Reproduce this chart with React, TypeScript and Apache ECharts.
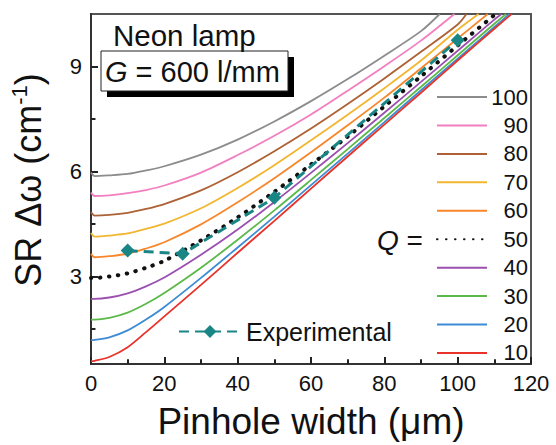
import React, { useEffect, useRef } from 'react';
import * as echarts from 'echarts';

const FONT = '"Liberation Sans", Arial, Helvetica, sans-serif';

// pinhole widths (µm) at which curves were read
const xs = [0, 1, 5, 10, 15, 20, 30, 40, 50, 60, 70, 80, 90, 100, 110];

const qLabels = ['100', '90', '80', '70', '60', '50', '40', '30', '20', '10'];

const q100 = [5.97, 5.87, 5.89, 5.93, 6.03, 6.15, 6.48, 6.91, 7.43, 8.01, 8.64, 9.31, 10.01, null, null];
const q90 = [5.4, 5.3, 5.32, 5.38, 5.47, 5.6, 5.97, 6.47, 7.02, 7.63, 8.31, 9.01, 9.74, null, null];
const q80 = [4.84, 4.74, 4.76, 4.82, 4.93, 5.07, 5.46, 5.98, 6.58, 7.23, 7.93, 8.66, 9.42, 10.2, null];
const q70 = [4.24, 4.14, 4.17, 4.23, 4.36, 4.51, 4.95, 5.53, 6.18, 6.89, 7.62, 8.38, 9.17, 10.05, null];
const q60 = [3.65, 3.55, 3.58, 3.65, 3.8, 3.98, 4.49, 5.12, 5.81, 6.55, 7.32, 8.11, 8.95, 9.8, null];
const q50 = [2.96, 2.96, 3.0, 3.09, 3.25, 3.45, 4.03, 4.69, 5.42, 6.2, 7.0, 7.86, 8.72, 9.6, 10.47];
const q40 = [2.36, 2.36, 2.4, 2.52, 2.72, 2.97, 3.62, 4.34, 5.13, 5.96, 6.81, 7.68, 8.56, 9.45, 10.34];
const q30 = [1.77, 1.77, 1.82, 1.97, 2.22, 2.53, 3.25, 4.05, 4.89, 5.76, 6.64, 7.53, 8.42, 9.32, 10.22];
const q20 = [1.18, 1.19, 1.26, 1.46, 1.77, 2.13, 2.96, 3.83, 4.71, 5.61, 6.51, 7.41, 8.32, 9.22, 10.13];
const q10 = [0.58, 0.59, 0.7, 0.98, 1.41, 1.86, 2.76, 3.68, 4.59, 5.51, 6.43, 7.34, 8.25, 9.17, 10.08];

// x where each curve leaves the top of the plot
const topCrossX = [95.1, 99.1, 102.4, 105.7, 108.2, 110.3, 112.0, 113.2, 114.1, 114.7];

const curveColors = ['#8c8c8c', '#f27fbf', '#ad6134', '#f2b630', '#f7872a', '#111111', '#9b4fb0', '#5bb94a', '#3d8bd4', '#e8322a'];

const expX = [10, 25, 50, 100];
const expY = [3.74, 3.65, 5.25, 9.75];

const xMin = 0;
const xMax = 120;
const yMin = 0.5;
const yMax = 10.5;
const yMajorTicks = [3, 6, 9];
const yMinorTicks = [1.5, 4.5, 7.5];

const curves = [q100, q90, q80, q70, q60, q50, q40, q30, q20, q10];

function buildData(vals: (number | null)[], cross: number) {
  const d: number[][] = [];
  xs.forEach((x, i) => {
    const v = vals[i];
    if (v != null) d.push([x, v]);
  });
  d.push([cross, yMax]);
  return d;
}

export default function App() {
  const ref = useRef<HTMLDivElement>(null);
  useEffect(() => {
    document.body.style.margin = '0';
    if (!ref.current) return;
    const chart = echarts.init(ref.current, undefined, { renderer: 'svg' });
    const axisColor = '#333';
    const tickColor = '#222';
    const series: any[] = curves.map((vals, i) => {
      const dotted = qLabels[i] === '50';
      return {
        name: qLabels[i],
        type: 'line',
        xAxisIndex: 0,
        yAxisIndex: 0,
        data: buildData(vals, topCrossX[i]),
        symbol: 'none',
        smooth: 0.3,
        clip: true,
        z: dotted ? 4 : 3,
        lineStyle: dotted
          ? { color: curveColors[i], width: 4, type: [0.5, 8.5], cap: 'round' }
          : { color: curveColors[i], width: 1.8 },
        itemStyle: { color: curveColors[i] },
      };
    });
    series.push({
      name: 'Experimental',
      type: 'line',
      xAxisIndex: 0,
      yAxisIndex: 0,
      data: expX.map((x, i) => [x, expY[i]]),
      symbol: 'diamond',
      symbolSize: 14,
      z: 6,
      itemStyle: { color: '#1a8585' },
      lineStyle: { color: '#1a8585', width: 3, type: [10, 6] },
    });

    chart.setOption({
      animation: false,
      grid: {
        left: 91,
        right: 25,
        top: 14,
        bottom: 77,
        show: true,
        borderColor: '#555',
        borderWidth: 2,
      },
      legend: [
        {
          data: qLabels,
          orient: 'vertical',
          left: 436,
          top: 86,
          padding: 0,
          itemWidth: 50,
          itemHeight: 22,
          itemGap: 6.44,
          selectedMode: false,
          itemStyle: { opacity: 0 },
          formatter: '{a|{name}}',
          textStyle: {
            fontSize: 22,
            fontFamily: FONT,
            color: '#111',
            rich: { a: { width: 36, align: 'right', fontSize: 22, fontFamily: FONT, color: '#111', lineHeight: 22 } },
          },
        },
        {
          data: ['Experimental'],
          left: 178,
          top: 319,
          padding: 0,
          itemWidth: 62,
          itemHeight: 16,
          selectedMode: false,
          textStyle: { fontSize: 25, fontFamily: FONT, color: '#111' },
        },
      ],
      xAxis: [
        {
          type: 'value',
          min: xMin,
          max: xMax,
          interval: 20,
          position: 'bottom',
          axisLine: { show: true, lineStyle: { color: axisColor, width: 2 } },
          axisTick: { show: true, inside: true, length: 7, lineStyle: { color: tickColor, width: 2 } },
          minorTick: { show: true, splitNumber: 2, length: 4.5, lineStyle: { color: tickColor, width: 2 } },
          splitLine: { show: false },
          axisLabel: { fontSize: 22, color: '#111', margin: 8, fontFamily: FONT },
          name: 'Pinhole width (μm)',
          nameLocation: 'middle',
          nameGap: 39,
          nameTextStyle: { fontSize: 37, color: '#111', fontFamily: FONT },
        },
        {
          type: 'value',
          min: xMin,
          max: xMax,
          interval: 20,
          position: 'bottom',
          axisLine: { show: false },
          axisTick: { show: true, inside: true, length: 7, lineStyle: { color: tickColor, width: 2 } },
          minorTick: { show: true, splitNumber: 2, length: 4.5, lineStyle: { color: tickColor, width: 2 } },
          splitLine: { show: false },
          axisLabel: { show: false },
        },
      ],
      yAxis: [
        {
          type: 'value',
          min: yMin,
          max: yMax,
          position: 'left',
          axisLine: { show: true, lineStyle: { color: axisColor, width: 2 } },
          axisTick: { show: true, inside: true, length: 7, customValues: yMajorTicks, lineStyle: { color: tickColor, width: 2 } },
          axisLabel: { customValues: yMajorTicks, fontSize: 22, color: '#111', margin: 9, fontFamily: FONT },
          splitLine: { show: false },
          name: '{n|SR Δω (cm}{s|-1}{n|)}',
          nameLocation: 'middle',
          nameGap: 43,
          nameTextStyle: {
            fontSize: 36,
            color: '#111',
            fontFamily: FONT,
            padding: [0, 0, 0, 18],
            rich: {
              n: { fontSize: 36, fontFamily: FONT, color: '#111', lineHeight: 36 },
              s: { fontSize: 22, fontFamily: FONT, color: '#111', padding: [0, 0, 18, 0] },
            },
          },
        },
        {
          type: 'value',
          min: yMin,
          max: yMax,
          position: 'left',
          axisLine: { show: false },
          axisTick: { show: true, inside: true, length: 4.5, customValues: yMinorTicks, lineStyle: { color: tickColor, width: 2 } },
          axisLabel: { show: false },
          splitLine: { show: false },
        },
        {
          type: 'value',
          min: yMin,
          max: yMax,
          position: 'left',
          axisLine: { show: false },
          axisTick: { show: true, inside: true, length: 7, customValues: yMajorTicks, lineStyle: { color: tickColor, width: 2 } },
          axisLabel: { show: false },
          splitLine: { show: false },
        },
      ],
      graphic: [
        { type: 'rect', shape: { x: 107, y: 57, width: 187, height: 40 }, style: { fill: '#000' }, z: 10 },
        { type: 'rect', shape: { x: 101, y: 51, width: 187, height: 40 }, style: { fill: '#fff', stroke: '#222', lineWidth: 1 }, z: 11 },
        {
          type: 'text', x: 113, y: 35.5, z: 12,
          style: { text: 'Neon lamp', fontSize: 29.5, fontFamily: FONT, fill: '#111', verticalAlign: 'middle' },
        },
        {
          type: 'text', x: 105, y: 72, z: 12,
          style: {
            text: '{i|G} = 600 l/mm', fontSize: 29, fontFamily: FONT, fill: '#111', verticalAlign: 'middle',
            rich: { i: { fontStyle: 'italic', fontSize: 29, fontFamily: FONT, fill: '#111' } },
          },
        },
        {
          type: 'text', x: 377, y: 240, z: 12,
          style: {
            text: '{i|Q} =', fontSize: 28, fontFamily: FONT, fill: '#111', verticalAlign: 'middle',
            rich: { i: { fontStyle: 'italic', fontSize: 28, fontFamily: FONT, fill: '#111' } },
          },
        },
      ],
      series,
    });
    return () => chart.dispose();
  }, []);
  return <div ref={ref} style={{ width: 556, height: 445 }} />;
}
